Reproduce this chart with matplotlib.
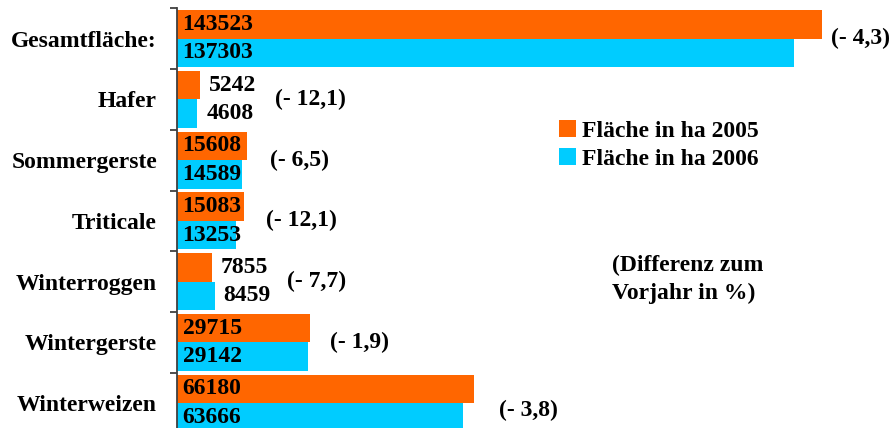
import matplotlib
matplotlib.use("Agg")
import matplotlib.pyplot as plt
from matplotlib.patches import Patch

categories = ["Gesamtfläche:", "Hafer", "Sommergerste", "Triticale",
              "Winterroggen", "Wintergerste", "Winterweizen"]
area_2005 = [143523, 5242, 15608, 15083, 7855, 29715, 66180]
area_2006 = [137303, 4608, 14589, 13253, 8459, 29142, 63666]
diff_labels = ["(- 4,3)", "(- 12,1)", "(- 6,5)", "(- 12,1)",
               "(- 7,7)", "(- 1,9)", "(- 3,8)"]
series_labels = ["Fläche in ha 2005", "Fläche in ha 2006"]
note_text = "(Differenz zum\nVorjahr in %)"

# layout (pixel offsets, not data)
diff_dx_px = [9, 75, 23, 22, 72, 20, 25]
diff_dy_px = [0, 0, 0, 0, 0, 0, 7]

ORANGE = "#FF6600"
CYAN = "#00CCFF"
FONT = "Liberation Serif"
FS = 17
PT = 0.72  # points per pixel at dpi 100

W, H = 893, 428
fig = plt.figure(figsize=(W / 100, H / 100), dpi=100)
ax_left = 176.5 / W
ax_top = 1 - 8.3 / H
ax_bottom = 1 - 433.5 / H
ax = fig.add_axes([ax_left, ax_bottom, 1 - ax_left, ax_top - ax_bottom])

n = len(categories)
pos = list(range(n))
bh = 0.47
y05 = [p - bh / 2 for p in pos]
y06 = [p + bh / 2 for p in pos]
ax.barh(y05, area_2005, height=bh, color=ORANGE, label=series_labels[0])
ax.barh(y06, area_2006, height=bh, color=CYAN, label=series_labels[1])

ax.set_ylim(n - 0.5, -0.5)
ax.set_xlim(0, 159258)

for s in ["top", "right", "bottom"]:
    ax.spines[s].set_visible(False)
ax.spines["left"].set_color("#404040")
ax.spines["left"].set_linewidth(1.3)
ax.set_xticks([])
ax.set_yticks([p - 0.5 for p in pos] + [n - 0.5])
ax.set_yticklabels([])
ax.tick_params(axis="y", which="major", length=5, width=1.3, color="#404040", direction="out")
ax.set_yticks(pos, minor=True)
ax.set_yticklabels(categories, minor=True, fontfamily=FONT, fontweight="bold", fontsize=FS)
ax.tick_params(axis="y", which="minor", length=0, pad=14)

textkw = dict(fontfamily=FONT, fontweight="bold", fontsize=FS, color="black",
              va="center", ha="left", textcoords="offset points", annotation_clip=False)

for i in range(n):
    for v, y in ((area_2005[i], y05[i]), (area_2006[i], y06[i])):
        if v >= 10000:
            ax.annotate(str(v), xy=(0, y), xytext=(6 * PT, 0), **textkw)
        else:
            ax.annotate(str(v), xy=(v, y), xytext=(9 * PT, 0), **textkw)
    vmax = max(area_2005[i], area_2006[i])
    ax.annotate(diff_labels[i], xy=(vmax, pos[i]),
                xytext=(diff_dx_px[i] * PT, -diff_dy_px[i] * PT), **textkw)

handles = [Patch(facecolor=ORANGE, edgecolor="none"), Patch(facecolor=CYAN, edgecolor="none")]
leg = fig.legend(handles, series_labels, loc="upper left",
                 bbox_to_anchor=(559 / W, 1 - 120 / H), frameon=False,
                 prop=dict(family=FONT, weight="bold", size=FS),
                 handlelength=0.71, handleheight=0.71, handletextpad=0.25,
                 labelspacing=0.28, borderpad=0, borderaxespad=0)

fig.text(611.7 / W, 1 - 279 / H, note_text, fontfamily=FONT, fontweight="bold",
         fontsize=FS, ha="left", va="center", linespacing=1.42)
fig.savefig("out.png", dpi=100)
